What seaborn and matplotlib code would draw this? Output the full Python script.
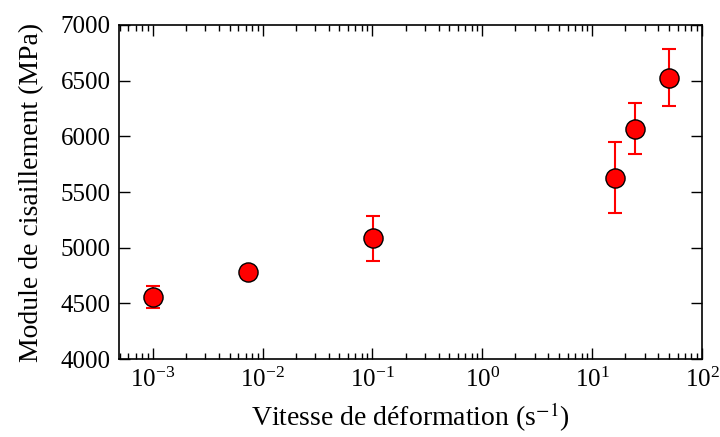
import matplotlib
matplotlib.use("Agg")
import matplotlib.pyplot as plt
import seaborn as sns
import pandas as pd
from matplotlib.ticker import LogLocator

# données
vitesse = [1.0e-3, 7.3e-3, 0.102, 16.3, 24.3, 50.0]
module = [4560, 4780, 5085, 5630, 6070, 6527]
erreur = [100, 55, 200, 315, 232, 253]

df = pd.DataFrame({"vitesse": vitesse, "module": module, "erreur": erreur})

sns.set_style("ticks")
plt.rcParams["font.family"] = ["Liberation Serif", "DejaVu Serif"]
plt.rcParams["mathtext.fontset"] = "stix"
plt.rcParams["text.color"] = "black"
plt.rcParams["axes.labelcolor"] = "black"
plt.rcParams["xtick.color"] = "black"
plt.rcParams["ytick.color"] = "black"

fig = plt.figure(figsize=(7.2, 4.37), dpi=100)
ax = fig.add_axes([0.165, 0.178, 0.81, 0.765])

ax.errorbar(df["vitesse"], df["module"], yerr=df["erreur"], fmt="none",
            ecolor="red", elinewidth=1.5, capsize=5, capthick=1.5, zorder=2)
sns.scatterplot(data=df, x="vitesse", y="module", ax=ax, color="red",
                edgecolor="black", linewidth=1, s=190, zorder=3)

ax.set_xscale("log")
ax.set_xlim(4.9e-4, 100)
ax.set_ylim(4000, 7000)
ax.set_yticks(range(4000, 7001, 500))
ax.xaxis.set_major_locator(LogLocator(base=10, numticks=10))
ax.xaxis.set_minor_locator(LogLocator(base=10, subs=range(2, 10), numticks=20))

ax.tick_params(which="both", direction="in", top=True, right=True, labelsize=18,
               colors="black")
ax.tick_params(which="major", length=8, width=1, pad=6)
ax.tick_params(which="minor", length=4, width=1)
for s in ax.spines.values():
    s.set_linewidth(1.2)
    s.set_color("black")

ax.set_xlabel(r"Vitesse de déformation (s$^{-1}$)", fontsize=20, labelpad=6)
ax.set_ylabel("Module de cisaillement (MPa)", fontsize=20, labelpad=12)

fig.savefig("out.png", dpi=100)
